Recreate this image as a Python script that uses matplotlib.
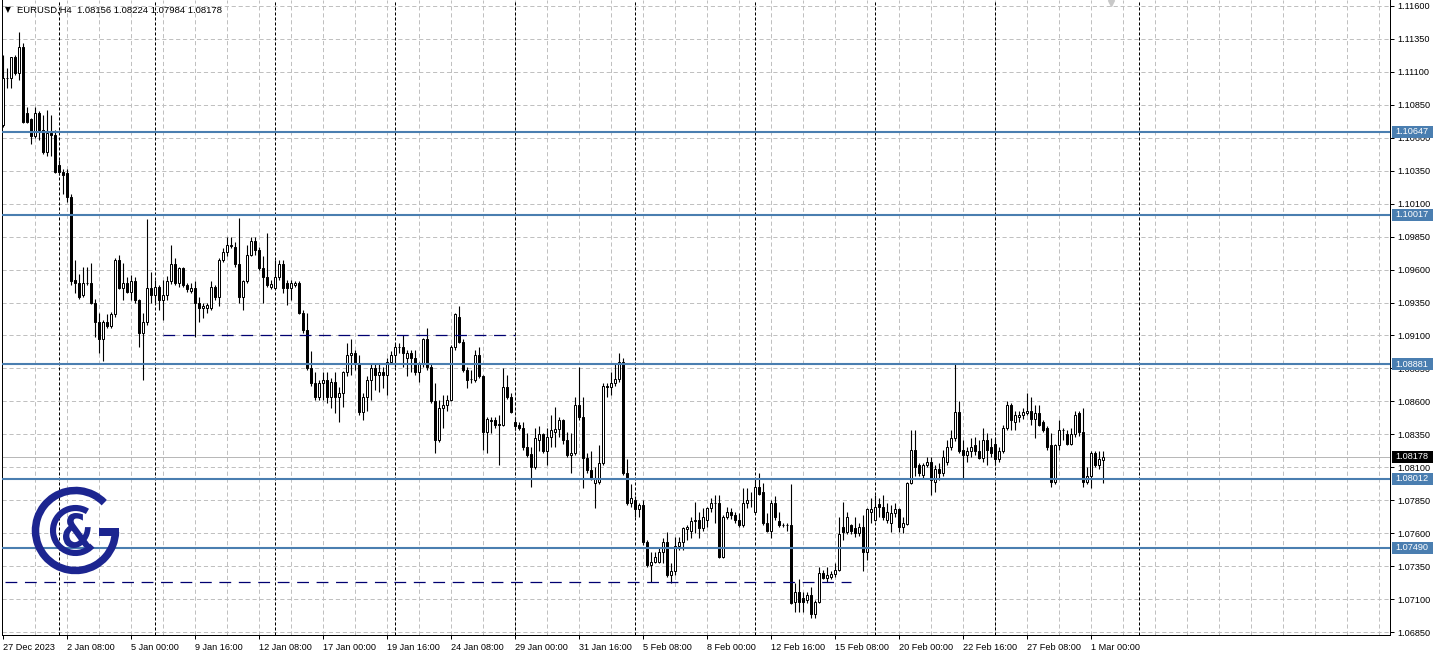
import matplotlib
matplotlib.use('Agg')
import matplotlib.pyplot as plt
import matplotlib.transforms as mtransforms
from matplotlib.patches import Arc, Rectangle, PathPatch
from matplotlib.textpath import TextPath
from matplotlib.font_manager import FontProperties
import numpy as np

plt.rcParams['lines.scale_dashes'] = False
plt.rcParams['font.family'] = ['Liberation Sans', 'DejaVu Sans']

# ---------------- data ----------------
symbol = "EURUSD,H4"
opens = [1.1070,1.1105,1.1105,1.1121,1.1109,1.1129,1.1079,1.1074,1.1061,1.1079,
1.1066,1.1049,1.1064,1.1062,1.1039,1.1034,1.1033,1.1015,1.0952,1.0950,
1.0941,1.0950,1.0950,1.0935,1.0920,1.0907,1.0920,1.0917,1.0926,1.0967,
1.0946,1.0950,1.0943,1.0951,1.0937,1.0912,1.0920,1.0946,1.0941,1.0947,
1.0937,1.0941,1.0951,1.0964,1.0950,1.0961,1.0948,1.0944,1.0946,1.0935,
1.0931,1.0931,1.0931,1.0947,1.0939,1.0967,1.0973,1.0978,1.0977,1.0964,
1.0939,1.0951,1.0971,1.0982,1.0975,1.0961,1.0954,1.0947,1.0946,1.0954,
1.0964,1.0950,1.0946,1.0948,1.0950,1.0927,1.0914,1.0885,1.0874,1.0863,
1.0874,1.0876,1.0863,1.0875,1.0863,1.0866,1.0882,1.0895,1.0897,1.0888,
1.0852,1.0863,1.0876,1.0885,1.0880,1.0882,1.0880,1.0890,1.0895,1.0901,
1.0901,1.0893,1.0897,1.0893,1.0882,1.0888,1.0907,1.0886,1.0860,1.0831,
1.0855,1.0857,1.0861,1.0901,1.0924,1.0905,1.0884,1.0877,1.0876,1.0895,
1.0879,1.0837,1.0845,1.0846,1.0843,1.0842,1.0871,1.0863,1.0844,1.0842,
1.0840,1.0825,1.0820,1.0810,1.0831,1.0835,1.0822,1.0833,1.0837,1.0839,
1.0846,1.0831,1.0819,1.0821,1.0857,1.0848,1.0817,1.0808,1.0798,1.0799,
1.0813,1.0872,1.0871,1.0874,1.0877,1.0890,1.0806,1.0783,1.0785,1.0778,
1.0781,1.0753,1.0736,1.0738,1.0738,1.0746,1.0753,1.0728,1.0731,1.0750,
1.0753,1.0763,1.0762,1.0769,1.0770,1.0764,1.0770,1.0779,1.0783,1.0783,
1.0742,1.0772,1.0776,1.0774,1.0770,1.0766,1.0783,1.0785,1.0776,1.0795,
1.0791,1.0768,1.0762,1.0783,1.0769,1.0766,1.0766,1.0766,1.0708,1.0715,
1.0711,1.0709,1.0713,1.0699,1.0708,1.0730,1.0726,1.0727,1.0729,1.0732,
1.0765,1.0761,1.0766,1.0764,1.0760,1.0765,1.0746,1.0776,1.0770,1.0782,
1.0780,1.0770,1.0768,1.0775,1.0778,1.0765,1.0767,1.0798,1.0823,1.0812,
1.0804,1.0812,1.0814,1.0799,1.0809,1.0806,1.0814,1.0825,1.0832,1.0852,
1.0823,1.0819,1.0822,1.0827,1.0822,1.0817,1.0831,1.0825,1.0828,1.0816,
1.0822,1.0840,1.0857,1.0844,1.0848,1.0850,1.0851,1.0853,1.0847,1.0851,
1.0844,1.0840,1.0827,1.0799,1.0827,1.0838,1.0835,1.0828,1.0835,1.0851,
1.0837,1.0799,1.0803,1.0821,1.0812,1.08156]
highs = [1.1123,1.1113,1.1121,1.1123,1.1140,1.1132,1.1083,1.1075,1.1083,1.1080,
1.1077,1.1081,1.1077,1.1066,1.1043,1.1036,1.1036,1.1017,1.0967,1.0957,
1.0962,1.0962,1.0965,1.0938,1.0927,1.0922,1.0926,1.0928,1.0969,1.0971,
1.0965,1.0954,1.0956,1.0954,1.0938,1.0927,1.0998,1.0958,1.0952,1.0948,
1.0952,1.0955,1.0979,1.0969,1.0962,1.0962,1.0950,1.0950,1.0951,1.0939,
1.0935,1.0935,1.0951,1.0948,1.0969,1.0976,1.0985,1.0985,1.0981,1.0999,
1.0952,1.0979,1.0985,1.0985,1.0977,1.0970,1.0988,1.0952,1.0967,1.0967,
1.0967,1.0952,1.0952,1.0951,1.0951,1.0929,1.0927,1.0898,1.0882,1.0876,
1.0882,1.0882,1.0878,1.0882,1.0871,1.0883,1.0904,1.0907,1.0899,1.0895,
1.0866,1.0879,1.0888,1.0888,1.0889,1.0886,1.0893,1.0898,1.0904,1.0904,
1.0910,1.0899,1.0899,1.0899,1.0890,1.0908,1.0916,1.0888,1.0874,1.0861,
1.0865,1.0865,1.0903,1.0927,1.0932,1.0907,1.0886,1.0884,1.0899,1.0901,
1.0880,1.0848,1.0848,1.0848,1.0850,1.0885,1.0880,1.0866,1.0848,1.0844,
1.0844,1.0836,1.0825,1.0840,1.0841,1.0836,1.0840,1.0850,1.0856,1.0848,
1.0847,1.0837,1.0836,1.0863,1.0886,1.0863,1.0821,1.0822,1.0810,1.0827,
1.0874,1.0874,1.0882,1.0888,1.0897,1.0893,1.0816,1.0797,1.0788,1.0783,
1.0785,1.0755,1.0746,1.0746,1.0749,1.0756,1.0761,1.0737,1.0757,1.0757,
1.0765,1.0766,1.0772,1.0784,1.0776,1.0779,1.0780,1.0787,1.0789,1.0789,
1.0774,1.0780,1.0779,1.0776,1.0775,1.0794,1.0794,1.0791,1.0802,1.0806,
1.0798,1.0775,1.0785,1.0788,1.0776,1.0768,1.0768,1.0797,1.0722,1.0725,
1.0715,1.0715,1.0719,1.0709,1.0734,1.0732,1.0734,1.0731,1.0737,1.0772,
1.0784,1.0776,1.0767,1.0772,1.0768,1.0774,1.0779,1.0787,1.0789,1.0787,
1.0789,1.0783,1.0781,1.0783,1.0779,1.0772,1.0799,1.0838,1.0838,1.0813,
1.0813,1.0818,1.0818,1.0812,1.0813,1.0823,1.0831,1.0838,1.0888,1.0860,
1.0831,1.0825,1.0832,1.0833,1.0831,1.0840,1.0836,1.0832,1.0832,1.0825,
1.0842,1.0860,1.0859,1.0853,1.0853,1.0855,1.0866,1.0863,1.0857,1.0857,
1.0846,1.0841,1.0836,1.0828,1.0846,1.0840,1.0838,1.0840,1.0853,1.0853,
1.0855,1.0810,1.0822,1.0822,1.0822,1.08224]
lows = [1.1068,1.1098,1.1098,1.1108,1.1104,1.1071,1.1071,1.1055,1.1060,1.1058,
1.1048,1.1046,1.1046,1.1033,1.1032,1.1017,1.1011,1.0948,1.0942,1.0938,
1.0939,1.0948,1.0934,1.0909,1.0897,1.0891,1.0916,1.0916,1.0924,1.0945,
1.0937,1.0942,1.0937,1.0935,1.0901,1.0876,1.0918,1.0935,1.0935,1.0929,
1.0922,1.0937,1.0949,1.0948,1.0947,1.0947,1.0943,1.0942,1.0909,1.0920,
1.0923,1.0927,1.0929,1.0937,1.0932,1.0966,1.0970,1.0976,1.0962,1.0935,
1.0929,1.0950,1.0970,1.0971,1.0960,1.0935,1.0947,1.0945,1.0945,1.0952,
1.0942,1.0933,1.0937,1.0947,1.0926,1.0912,1.0884,1.0872,1.0861,1.0861,
1.0861,1.0859,1.0855,1.0851,1.0844,1.0856,1.0879,1.0880,1.0884,1.0850,
1.0846,1.0853,1.0861,1.0869,1.0867,1.0870,1.0865,1.0888,1.0886,1.0897,
1.0886,1.0879,1.0882,1.0880,1.0875,1.0886,1.0884,1.0859,1.0821,1.0829,
1.0840,1.0853,1.0860,1.0899,1.0904,1.0882,1.0870,1.0874,1.0875,1.0878,
1.0823,1.0821,1.0836,1.0840,1.0812,1.0841,1.0862,1.0851,1.0838,1.0838,
1.0823,1.0818,1.0795,1.0809,1.0822,1.0821,1.0812,1.0825,1.0825,1.0833,
1.0828,1.0818,1.0806,1.0819,1.0846,1.0794,1.0806,1.0800,1.0779,1.0797,
1.0812,1.0863,1.0865,1.0872,1.0875,1.0804,1.0781,1.0780,1.0772,1.0772,
1.0751,1.0734,1.0723,1.0737,1.0737,1.0737,1.0727,1.0722,1.0728,1.0747,
1.0747,1.0755,1.0756,1.0760,1.0756,1.0762,1.0765,1.0776,1.0768,1.0741,
1.0741,1.0771,1.0771,1.0768,1.0765,1.0765,1.0779,1.0780,1.0775,1.0789,
1.0766,1.0761,1.0756,1.0770,1.0765,1.0765,1.0762,1.0706,1.0700,1.0700,
1.0700,1.0707,1.0696,1.0696,1.0707,1.0725,1.0723,1.0725,1.0727,1.0731,
1.0755,1.0759,1.0759,1.0757,1.0758,1.0731,1.0740,1.0768,1.0769,1.0772,
1.0770,1.0768,1.0761,1.0772,1.0761,1.0760,1.0766,1.0797,1.0803,1.0803,
1.0802,1.0810,1.0789,1.0791,1.0800,1.0803,1.0812,1.0823,1.0830,1.0821,
1.0802,1.0814,1.0818,1.0819,1.0816,1.0814,1.0812,1.0818,1.0812,1.0814,
1.0821,1.0838,1.0838,1.0838,1.0844,1.0847,1.0850,1.0842,1.0832,1.0841,
1.0837,1.0823,1.0795,1.0797,1.0823,1.0831,1.0827,1.0827,1.0833,1.0834,
1.0795,1.0797,1.0794,1.0810,1.0809,1.07984]
closes = [1.1105,1.1105,1.1121,1.1109,1.1129,1.1072,1.1072,1.1061,1.1079,1.1066,
1.1049,1.1064,1.1062,1.1034,1.1034,1.1032,1.1015,1.0951,1.0950,1.0939,
1.0950,1.0950,1.0935,1.0920,1.0907,1.0920,1.0917,1.0926,1.0967,1.0946,
1.0950,1.0943,1.0951,1.0937,1.0912,1.0920,1.0946,1.0941,1.0947,1.0937,
1.0941,1.0951,1.0964,1.0950,1.0961,1.0948,1.0945,1.0946,1.0935,1.0931,
1.0932,1.0933,1.0947,1.0939,1.0967,1.0973,1.0979,1.0979,1.0964,1.0939,
1.0951,1.0971,1.0982,1.0975,1.0961,1.0954,1.0948,1.0949,1.0954,1.0964,
1.0946,1.0946,1.0950,1.0950,1.0927,1.0914,1.0885,1.0874,1.0863,1.0874,
1.0876,1.0863,1.0875,1.0863,1.0866,1.0882,1.0895,1.0897,1.0888,1.0852,
1.0863,1.0876,1.0885,1.0880,1.0882,1.0880,1.0890,1.0895,1.0901,1.0901,
1.0897,1.0897,1.0893,1.0882,1.0888,1.0907,1.0886,1.0860,1.0831,1.0855,
1.0857,1.0861,1.0901,1.0926,1.0905,1.0884,1.0876,1.0877,1.0895,1.0879,
1.0837,1.0847,1.0846,1.0842,1.0842,1.0871,1.0863,1.0852,1.0841,1.0840,
1.0825,1.0819,1.0810,1.0832,1.0835,1.0822,1.0833,1.0838,1.0839,1.0846,
1.0831,1.0819,1.0821,1.0857,1.0848,1.0817,1.0808,1.0802,1.0802,1.0813,
1.0872,1.0871,1.0874,1.0877,1.0890,1.0806,1.0783,1.0787,1.0778,1.0781,
1.0753,1.0736,1.0738,1.0742,1.0746,1.0753,1.0728,1.0731,1.0750,1.0753,
1.0764,1.0765,1.0769,1.0770,1.0764,1.0772,1.0779,1.0783,1.0783,1.0742,
1.0772,1.0776,1.0774,1.0770,1.0766,1.0783,1.0785,1.0785,1.0795,1.0790,
1.0768,1.0762,1.0783,1.0772,1.0766,1.0766,1.0766,1.0707,1.0715,1.0708,
1.0708,1.0713,1.0699,1.0708,1.0730,1.0726,1.0728,1.0729,1.0732,1.0759,
1.0761,1.0772,1.0762,1.0760,1.0765,1.0746,1.0778,1.0778,1.0780,1.0780,
1.0772,1.0776,1.0775,1.0778,1.0765,1.0768,1.0798,1.0823,1.0810,1.0806,
1.0812,1.0814,1.0800,1.0809,1.0806,1.0818,1.0825,1.0832,1.0852,1.0822,
1.0819,1.0822,1.0825,1.0822,1.0817,1.0831,1.0823,1.0821,1.0816,1.0822,
1.0840,1.0857,1.0846,1.0850,1.0850,1.0852,1.0853,1.0847,1.0851,1.0842,
1.0838,1.0825,1.0799,1.0827,1.0838,1.0838,1.0828,1.0835,1.0850,1.0837,
1.0799,1.0803,1.0821,1.0812,1.0816,1.08178]

x_tick_labels = ["27 Dec 2023", "2 Jan 08:00", "5 Jan 00:00", "9 Jan 16:00",
                 "12 Jan 08:00", "17 Jan 00:00", "19 Jan 16:00", "24 Jan 08:00",
                 "29 Jan 00:00", "31 Jan 16:00", "5 Feb 08:00", "8 Feb 00:00",
                 "12 Feb 16:00", "15 Feb 08:00", "20 Feb 00:00", "22 Feb 16:00",
                 "27 Feb 08:00", "1 Mar 00:00"]
week_starts = [14, 38, 68, 98, 128, 158, 188, 218, 248, 284]   # bar index of week opens
levels = [1.10647, 1.10017, 1.08881, 1.08012, 1.07490]         # blue horizontal levels
dashed_levels = [1.0910, 1.0723]
dashed_from = [40, 0.5]
dashed_to = [128, 212]
current_price = 1.08178
price_ticks = [1.06850 + 0.0025 * k for k in range(20)]

# ---------------- figure ----------------
W, H = 1436, 657
fig = plt.figure(figsize=(W / 100, H / 100), dpi=100)
fig.patch.set_facecolor('white')
ax_l, ax_r, ax_t, ax_b = 1.5, 1390, 0, 635
ax = fig.add_axes([ax_l / W, (H - ax_b) / H, (ax_r - ax_l) / W, (ax_b - ax_t) / H])
ax.set_facecolor('white')

n = len(opens)
idx = np.arange(n)
o = np.array(opens); h = np.array(highs); l = np.array(lows); c = np.array(closes)

ppx = 13179.0  # pixels per price unit
ax.set_xlim((ax_l - 3) / 4, (ax_r - 3) / 4)
ax.set_ylim(1.116 - (ax_b - 6) / ppx, 1.116 + 6 / ppx)

GRID = '#c0c0c0'
BLUE = '#4a7eb0'
PX = 0.72

# grid
for p in price_ticks:
    ax.axhline(p, color=GRID, lw=PX, dashes=(3, 2), zorder=1)
for k in range(8, 350, 8):
    ax.axvline(k, color=GRID, lw=PX, dashes=(3, 2), zorder=1)

# week separators
for ws in week_starts:
    ax.axvline(ws, color='black', lw=PX, dashes=(2.2, 1.4), zorder=2)

# current price line
ax.axhline(current_price, color='#b8b8b8', lw=PX, zorder=2)

# candles
up = c >= o
ax.vlines(idx, l, h, colors='black', linewidth=0.8, zorder=3)
ax.bar(idx, np.abs(c - o), bottom=np.minimum(o, c), width=0.55,
       color=np.where(up, 'white', 'black'), edgecolor='black', linewidth=PX, zorder=4)

# horizontal levels
for lv in levels:
    ax.axhline(lv, color=BLUE, lw=1.5, zorder=5)
for lv, a, b in zip(dashed_levels, dashed_from, dashed_to):
    ax.hlines(lv, a, b, colors='#000070', linewidth=0.9, linestyles=[(0, (8.5, 5.5))], zorder=5)

# axes styling
for s in ['top']:
    ax.spines[s].set_visible(False)
for s in ['left', 'right', 'bottom']:
    ax.spines[s].set_linewidth(PX)
    ax.spines[s].set_color('black')
ax.yaxis.tick_right()
ax.set_yticks(price_ticks)
ax.set_yticklabels([f"{p:.5f}" for p in price_ticks])
ax.tick_params(axis='y', length=3, width=PX, pad=2, labelsize=6.6, colors='black')
ax.set_xticks(idx[::16][:len(x_tick_labels)])
ax.set_xticklabels(x_tick_labels, ha='left')
ax.tick_params(axis='x', length=3, width=PX, pad=3, labelsize=6.6, colors='black')

# right-side price tags
trans = mtransforms.blended_transform_factory(ax.transAxes, ax.transData)
axw = ax_r - ax_l
def tag(price, fc):
    x0 = (1392 - ax_l) / axw
    ax.add_patch(Rectangle((x0, price - 6 / ppx), 41 / axw, 12 / ppx, transform=trans,
                           facecolor=fc, edgecolor='none', clip_on=False, zorder=10))
    ax.text(x0 + 3 / axw, price, f"{price:.5f}", transform=trans, color='white',
            fontsize=6.6, va='center', ha='left', clip_on=False, zorder=11)
for lv in levels:
    tag(lv, BLUE)
tag(current_price, 'black')

# header text
fig.text(5 / W, 1 - 10 / H, "\u25BC", fontsize=5.5, va='center', ha='left',
         family=['DejaVu Sans'])
fig.text(17 / W, 1 - 10 / H,
         f"{symbol}  {opens[-1]:.5f} {highs[-1]:.5f} {lows[-1]:.5f} {closes[-1]:.5f}",
         fontsize=6.8, va='center', ha='left')

# overlay for logo (pixel coordinates, y up)
lax = fig.add_axes([0, 0, 1, 1], facecolor='none')
lax.set_xlim(0, W); lax.set_ylim(0, H); lax.axis('off')
LOGO = '#1c2590'
cx, cy = 75.5, H - 530.5
lax.add_patch(Arc((cx, cy), 2 * 40, 2 * 40, theta1=44, theta2=358, lw=5.4, color=LOGO))
lax.add_patch(Rectangle((99, cy - 1.5 - 3.8), 19.5, 7.6, color=LOGO, lw=0))
lax.add_patch(Arc((cx, cy), 2 * 22.5, 2 * 22.5, theta1=58, theta2=318, lw=4.4, color=LOGO))
fp = FontProperties(family='DejaVu Sans', weight='bold')
tp = TextPath((0, 0), '&', size=40, prop=fp)
ext = tp.get_extents()
sx = 29 / ext.width; sy = 35 / ext.height
tr = mtransforms.Affine2D().translate(-ext.x0 - ext.width / 2, -ext.y0 - ext.height / 2) \
    .scale(sx, sy).translate(77.5, cy)
lax.add_patch(PathPatch(tr.transform_path(tp), color=LOGO, lw=0))
# chart-shift marker
lax.plot([1111], [H - 3], marker='v', color='#c8c8c8', markersize=5)

fig.savefig('out.png', dpi=100, facecolor='white')
